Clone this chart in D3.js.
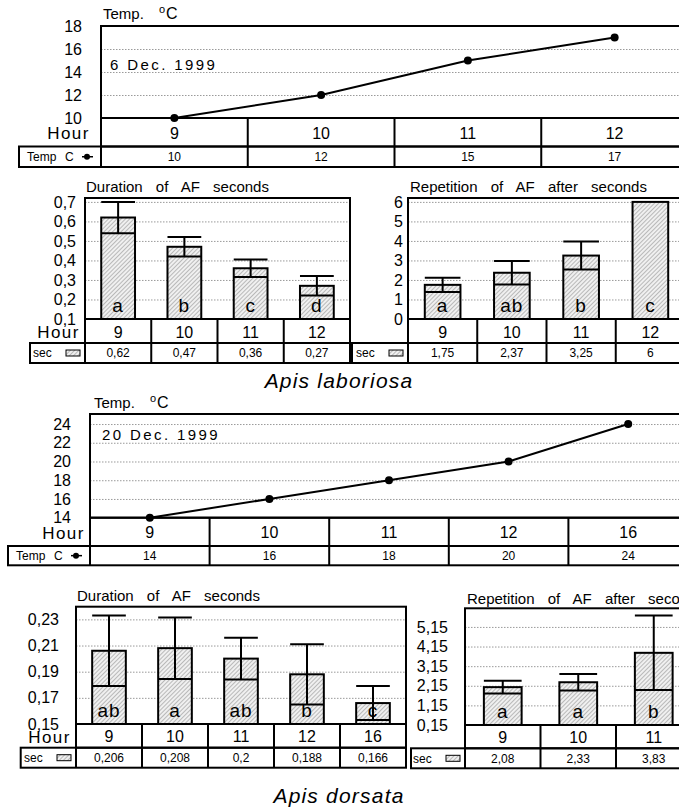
<!DOCTYPE html>
<html>
<head>
<meta charset="utf-8">
<script src="https://cdn.jsdelivr.net/npm/d3@7"></script>
<style>
body { margin:0; background:#fff; }
svg { display:block; }
text { font-family:"Liberation Sans", Arial, sans-serif; fill:#000; }
</style>
</head>
<body>
<script>
// ---- data: Apis laboriosa, 6 Dec. 1999
var hoursLab = ["9","10","11","12"];
var tempLab = [10, 12, 15, 17];
var tempLabTicks = [10, 12, 14, 16, 18];
var durLab = [0.62, 0.47, 0.36, 0.27];
var durLabErr = [0.08, 0.05, 0.045, 0.05];
var durLabGroup = ["a","b","c","d"];
var durLabTicks = [0.1, 0.2, 0.3, 0.4, 0.5, 0.6, 0.7];
var repLab = [1.75, 2.37, 3.25, 6];
var repLabErr = [0.37, 0.6, 0.72, 0];
var repLabGroup = ["a","ab","b","c"];
var repLabTicks = [0, 1, 2, 3, 4, 5, 6];

// ---- data: Apis dorsata, 20 Dec. 1999
var hoursDor = ["9","10","11","12","16"];
var tempDor = [14, 16, 18, 20, 24];
var tempDorTicks = [14, 16, 18, 20, 22, 24];
var durDor = [0.206, 0.208, 0.2, 0.188, 0.166];
var durDorErr = [0.027, 0.0235, 0.016, 0.023, 0.013];
var durDorGroup = ["ab","a","ab","b","c"];
var durDorTicks = [0.15, 0.17, 0.19, 0.21, 0.23];
var hoursDorRep = ["9","10","11"];
var repDor = [2.08, 2.33, 3.83];
var repDorErr = [0.33, 0.42, 1.9];
var repDorGroup = ["a","a","b"];
var repDorTicks = [0.15, 1.15, 2.15, 3.15, 4.15, 5.15];

var svg = d3.select("body").append("svg").attr("width",679).attr("height",809);

var pat = svg.append("defs").append("pattern").attr("id","hatch")
	.attr("patternUnits","userSpaceOnUse").attr("width",3).attr("height",3)
	.attr("patternTransform","rotate(45)");
pat.append("rect").attr("width",3).attr("height",3).attr("fill","#f0f0f0");
pat.append("line").attr("x1",0.5).attr("y1",0).attr("x2",0.5).attr("y2",3).attr("stroke","#ababab").attr("stroke-width",0.8);

function fmtC(v) { return String(v).replace(".", ","); }

function gridAndLabels(o, y) {
	svg.append("g").attr("transform","translate("+o.left+",0)")
		.call(d3.axisLeft(y).tickValues(o.ticks.slice(1)).tickSize(-(o.right-o.left)).tickFormat(""))
		.call(function(s){ s.select(".domain").remove(); })
		.selectAll("line").attr("stroke","#808080").attr("stroke-width",0.8).attr("stroke-dasharray","1.5,1.5");
	svg.append("g").attr("transform","translate("+o.labelX+",0)")
		.call(d3.axisLeft(y).tickValues(o.ticks).tickSize(0).tickPadding(0).tickFormat(o.fmt))
		.call(function(s){ s.select(".domain").remove(); })
		.selectAll("text").attr("font-size",16).attr("font-family","Liberation Sans, Arial, sans-serif");
}

function table(o, x, legend) {
	var bw = x.bandwidth();
	svg.append("rect").attr("x",o.left).attr("y",o.bottom).attr("width",o.right-o.left).attr("height",o.row1-o.bottom)
		.attr("fill","none").attr("stroke","#000").attr("stroke-width",2);
	svg.append("rect").attr("x",o.legLeft).attr("y",o.row1).attr("width",o.right-o.legLeft).attr("height",o.row2-o.row1)
		.attr("fill","none").attr("stroke","#000").attr("stroke-width",2);
	svg.selectAll(null).data(o.cats.slice(1)).enter().append("line")
		.attr("x1",function(d){ return x(d); }).attr("x2",function(d){ return x(d); })
		.attr("y1",o.bottom).attr("y2",o.row2).attr("stroke","#000").attr("stroke-width",2);
	svg.append("line").attr("x1",o.left).attr("x2",o.left).attr("y1",o.row1).attr("y2",o.row2).attr("stroke","#000").attr("stroke-width",2);

	svg.selectAll(null).data(o.cats).enter().append("text")
		.attr("x",function(d){ return x(d)+bw/2; }).attr("y",(o.bottom+o.row1)/2+1).attr("dy","0.35em")
		.attr("text-anchor","middle").attr("font-size",16).text(function(d){ return d; });
	svg.selectAll(null).data(o.vals).enter().append("text")
		.attr("x",function(d,i){ return x(o.cats[i])+bw/2; }).attr("y",(o.row1+o.row2)/2).attr("dy","0.35em")
		.attr("text-anchor","middle").attr("font-size",12).text(function(d){ return fmtC(d); });

	if (o.hour) {
		svg.append("text").attr("x",o.left-o.hour).attr("y",(o.bottom+o.row1)/2+1).attr("dy","0.35em")
			.attr("text-anchor","end").attr("font-size",17).attr("letter-spacing",1.5).text("Hour");
	}
	var my = (o.row1+o.row2)/2;
	if (legend == "temp") {
		svg.append("text").attr("x",o.left-74).attr("y",my).attr("dy","0.35em").attr("font-size",12).text("Temp");
		svg.append("text").attr("x",o.left-36).attr("y",my).attr("dy","0.35em").attr("font-size",12).text("C");
		svg.append("line").attr("x1",o.left-19).attr("x2",o.left-8).attr("y1",my).attr("y2",my).attr("stroke","#000").attr("stroke-width",1.5);
		svg.append("circle").attr("cx",o.left-14).attr("cy",my).attr("r",3).attr("fill","#000");
	} else {
		svg.append("text").attr("x",o.left-52).attr("y",my).attr("dy","0.35em").attr("font-size",12).text("sec");
		svg.append("rect").attr("x",o.left-19).attr("y",my-3).attr("width",14).attr("height",6)
			.attr("fill","url(#hatch)").attr("stroke","#000").attr("stroke-width",1);
	}
}

function tempPanel(o) {
	var x = d3.scaleBand().domain(o.cats).range([o.left, o.right]);
	var y = d3.scaleLinear().domain(o.yDomain).range([o.bottom, o.top]);
	o.fmt = d3.format("d");
	gridAndLabels(o, y);
	var line = d3.line().x(function(d,i){ return x(o.cats[i])+x.bandwidth()/2; }).y(function(d){ return y(d); });
	svg.append("path").datum(o.vals).attr("d",line).attr("fill","none").attr("stroke","#000").attr("stroke-width",2);
	svg.selectAll(null).data(o.vals).enter().append("circle")
		.attr("cx",function(d,i){ return x(o.cats[i])+x.bandwidth()/2; }).attr("cy",function(d){ return y(d); })
		.attr("r",4).attr("fill","#000");
	svg.append("rect").attr("x",o.left).attr("y",o.top).attr("width",o.right-o.left).attr("height",o.bottom-o.top)
		.attr("fill","none").attr("stroke","#000").attr("stroke-width",2);
	table(o, x, "temp");

	svg.append("text").attr("x",o.titleX).attr("y",o.titleY).attr("font-size",15).text("Temp.");
	svg.append("text").attr("x",o.titleX+56).attr("y",o.titleY-6).attr("font-size",11).text("o");
	svg.append("text").attr("x",o.titleX+63).attr("y",o.titleY).attr("font-size",16).text("C");
	svg.append("text").attr("x",o.dateX).attr("y",o.dateY).attr("font-size",15).attr("letter-spacing",2.4).text(o.date);
}

function barPanel(o) {
	var x = d3.scaleBand().domain(o.cats).range([o.left, o.right]);
	var y = d3.scaleLinear().domain(o.yDomain).range([o.bottom, o.top]);
	o.fmt = fmtC;
	gridAndLabels(o, y);
	var bw = x.bandwidth(), barW = bw*o.barFrac;
	var bx = function(d,i){ return x(o.cats[i]) + (bw-barW)/2; };
	var cx = function(d,i){ return x(o.cats[i]) + bw/2; };
	svg.selectAll(null).data(o.vals).enter().append("rect")
		.attr("x",bx).attr("y",function(d){ return y(d); }).attr("width",barW)
		.attr("height",function(d){ return o.bottom-y(d); })
		.attr("fill","url(#hatch)").attr("stroke","#000").attr("stroke-width",2);
	svg.selectAll(null).data(o.vals).enter().append("text")
		.attr("x",cx).attr("y",o.bottom-7).attr("text-anchor","middle").attr("font-size",19)
		.attr("letter-spacing",1)
		.text(function(d,i){ return o.groups[i]; });
	o.vals.forEach(function(v,i){
		var e = o.err[i];
		if (!e) return;
		var x0 = bx(v,i), c = cx(v,i);
		svg.append("line").attr("x1",x0).attr("x2",x0+barW).attr("y1",y(v-e)).attr("y2",y(v-e)).attr("stroke","#000").attr("stroke-width",2);
		svg.append("line").attr("x1",c).attr("x2",c).attr("y1",y(v-e)).attr("y2",y(v+e)).attr("stroke","#000").attr("stroke-width",2);
		svg.append("line").attr("x1",x0).attr("x2",x0+barW).attr("y1",y(v+e)).attr("y2",y(v+e)).attr("stroke","#000").attr("stroke-width",2);
	});
	svg.append("rect").attr("x",o.left).attr("y",o.top).attr("width",o.right-o.left).attr("height",o.bottom-o.top)
		.attr("fill","none").attr("stroke","#000").attr("stroke-width",2);
	table(o, x, "sec");
	svg.append("text").attr("x",o.titleX).attr("y",o.titleY).attr("font-size",15).attr("word-spacing",9).text(o.title);
}

// Apis laboriosa
tempPanel({cats:hoursLab, vals:tempLab, ticks:tempLabTicks, yDomain:[10,18],
	left:101, right:688, top:26, bottom:118, row1:146.5, row2:167, legLeft:19, labelX:82, hour:11,
	titleX:103, titleY:19, date:"6 Dec. 1999", dateX:110, dateY:70});

barPanel({cats:hoursLab, vals:durLab, err:durLabErr, groups:durLabGroup, ticks:durLabTicks, yDomain:[0.1,0.72],
	left:85, right:350, top:198, bottom:319, row1:343, row2:363, legLeft:30, labelX:76, hour:5, barFrac:0.51,
	title:"Duration of AF seconds", titleX:86, titleY:192});

barPanel({cats:hoursLab, vals:repLab, err:repLabErr, groups:repLabGroup, ticks:repLabTicks, yDomain:[0,6.2],
	left:408, right:685, top:198, bottom:319, row1:343, row2:363, legLeft:352, labelX:403, hour:0, barFrac:0.515,
	title:"Repetition of AF after seconds", titleX:410, titleY:192});

svg.append("text").attr("x",339).attr("y",388).attr("text-anchor","middle").attr("font-size",21)
	.attr("font-style","italic").attr("letter-spacing",1.2).text("Apis laboriosa");

// Apis dorsata
tempPanel({cats:hoursDor, vals:tempDor, ticks:tempDorTicks, yDomain:[14,25.07],
	left:90, right:688, top:414, bottom:517.7, row1:546, row2:565.3, legLeft:8, labelX:71, hour:5,
	titleX:94, titleY:408, date:"20 Dec. 1999", dateX:102, dateY:440});

barPanel({cats:hoursDor, vals:durDor, err:durDorErr, groups:durDorGroup, ticks:durDorTicks, yDomain:[0.15,0.2397],
	left:76, right:406, top:606.7, bottom:724, row1:747.7, row2:767.7, legLeft:20.7, labelX:59, hour:5, barFrac:0.51,
	title:"Duration of AF seconds", titleX:77, titleY:601});

barPanel({cats:hoursDorRep, vals:repDor, err:repDorErr, groups:repDorGroup, ticks:repDorTicks, yDomain:[0.15,6.1],
	left:465, right:691.5, top:608.3, bottom:725, row1:748.3, row2:768.3, legLeft:411, labelX:448, hour:0, barFrac:0.5,
	title:"Repetition of AF after seconds", titleX:467, titleY:603.5});

svg.append("text").attr("x",339).attr("y",803).attr("text-anchor","middle").attr("font-size",21)
	.attr("font-style","italic").attr("letter-spacing",1.2).text("Apis dorsata");
</script>
</body>
</html>
